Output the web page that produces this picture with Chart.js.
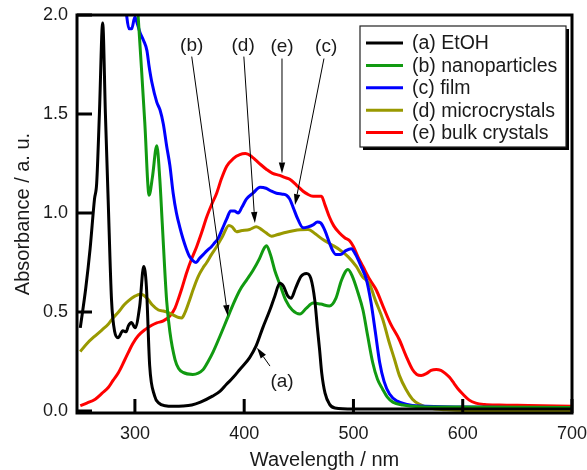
<!DOCTYPE html>
<html>
<head>
<meta charset="utf-8">
<script src="https://cdn.jsdelivr.net/npm/chart.js@4.4.1/dist/chart.umd.min.js"></script>
<style>
	html, body { margin: 0; padding: 0; background: #fff; }
</style>
</head>
<body>
<canvas id="absorbanceChart" width="587" height="470"></canvas>
<script>
// UV-vis absorbance spectra
// each point is [wavelength nm, absorbance]

const seriesLabels = ["(a) EtOH", "(b) nanoparticles", "(c) film", "(d) microcrystals", "(e) bulk crystals"];
const seriesColors = ["#000000", "#119a11", "#0000ff", "#999900", "#ff0000"];

const etoh = [[250,0.42],[255,0.62],[259,0.82],[263,1.07],[265,1.15],[267.5,1.5],[270.5,1.96],[273,1.5],[275.5,1.07],[278.6,0.56],[281.5,0.40],[284.5,0.37],[289,0.405],[292,0.40],[294,0.43],[297,0.447],[300,0.42],[304.4,0.53],[308,0.73],[310.5,0.63],[313.5,0.23],[318,0.077],[322,0.04],[327.7,0.027],[335,0.024],[344,0.025],[352,0.03],[360,0.045],[371,0.075],[378,0.1],[384,0.136],[390,0.17],[396,0.21],[405,0.27],[411,0.33],[417,0.42],[423.5,0.51],[428,0.58],[432.6,0.645],[436,0.63],[440,0.58],[443,0.57],[447,0.62],[452,0.68],[457,0.695],[461,0.67],[464.6,0.56],[467,0.42],[469,0.31],[471,0.19],[474,0.09],[478,0.035],[483,0.015],[500,0.01],[600,0.01],[700,0.01]];

const nanoparticles = [[296,2.6],[300,2.25],[303,1.99],[306,1.73],[309,1.46],[313,1.09],[316,1.18],[320,1.34],[322.8,1.17],[325,0.95],[329,0.56],[332,0.40],[336.7,0.26],[340,0.215],[344,0.195],[353,0.185],[362.5,0.21],[367,0.25],[371.7,0.30],[378,0.38],[384,0.46],[390,0.54],[396,0.61],[402,0.66],[408,0.71],[414,0.77],[418,0.82],[420.5,0.835],[424,0.79],[428,0.71],[432.6,0.64],[438,0.56],[444,0.51],[451,0.49],[457,0.52],[463,0.545],[470,0.54],[478,0.53],[484,0.57],[489,0.66],[495,0.715],[499,0.68],[504,0.6],[508.7,0.51],[513,0.38],[517.6,0.245],[522,0.16],[526.7,0.11],[531,0.07],[536,0.045],[545,0.03],[560,0.022],[600,0.02],[700,0.018]];

const film = [[288,2.3],[292.6,1.99],[294.7,1.93],[297,1.93],[300,1.99],[302,1.96],[304.7,1.91],[308,1.87],[311,1.82],[313,1.74],[315.5,1.66],[320,1.56],[323,1.52],[326,1.45],[329,1.34],[332,1.24],[335,1.1],[338,1.0],[341,0.93],[344,0.87],[347,0.82],[350,0.78],[353,0.76],[356,0.75],[359,0.77],[362.5,0.79],[366,0.81],[370,0.83],[373,0.85],[376,0.87],[380,0.92],[384,0.97],[387.6,1.01],[391,1.01],[394.5,1.0],[398,1.03],[402,1.07],[408,1.10],[414.6,1.13],[420,1.125],[425,1.11],[429.6,1.10],[435,1.095],[438.7,1.09],[441.7,1.07],[444.7,1.03],[449,0.97],[453.9,0.925],[458.5,0.93],[463,0.94],[467,0.955],[470,0.95],[474,0.91],[478,0.85],[481,0.81],[484,0.79],[488,0.79],[493,0.81],[498,0.82],[502,0.79],[507,0.73],[511.8,0.665],[516,0.55],[520,0.4],[524,0.245],[528,0.15],[533,0.086],[540,0.05],[548,0.035],[560,0.025],[603,0.02],[700,0.015]];

const microcrystals = [[250,0.30],[256,0.34],[263.7,0.38],[270,0.41],[275.8,0.44],[280,0.47],[285,0.50],[290,0.535],[294,0.556],[300,0.58],[304.7,0.59],[308,0.585],[312,0.564],[316,0.535],[321.5,0.51],[326,0.505],[330.6,0.497],[336.7,0.48],[340,0.472],[342.8,0.47],[346,0.5],[350,0.56],[353.4,0.615],[358,0.68],[362,0.72],[365.7,0.75],[370,0.79],[374.8,0.83],[380,0.88],[386,0.937],[389,0.93],[393,0.905],[397,0.91],[405,0.917],[411,0.93],[415,0.92],[420,0.9],[425,0.883],[430,0.89],[438.7,0.903],[445,0.91],[451,0.915],[458.5,0.917],[465,0.895],[472,0.866],[480,0.84],[487,0.816],[495,0.78],[502.6,0.73],[508,0.68],[514.8,0.64],[520,0.56],[527,0.46],[532,0.36],[537.6,0.26],[542,0.18],[548,0.11],[554,0.06],[560,0.035],[570,0.015],[585,0.006],[603,0.003],[700,0.003]];

const bulkCrystals = [[250,0.027],[256,0.04],[263.7,0.06],[270,0.09],[275.8,0.12],[280,0.155],[285,0.195],[290,0.25],[294,0.296],[298,0.34],[303,0.38],[309,0.41],[315.4,0.433],[320,0.445],[326,0.455],[332,0.48],[336.7,0.52],[340,0.57],[343,0.62],[347.4,0.70],[352,0.77],[356.5,0.83],[361,0.9],[365.7,0.98],[370,1.04],[374.8,1.10],[379,1.17],[384,1.236],[390,1.275],[396,1.295],[401,1.3],[406.7,1.286],[410,1.27],[415,1.245],[420.5,1.22],[426,1.2],[432.6,1.19],[437,1.18],[441.7,1.17],[448,1.14],[453.9,1.11],[458,1.095],[463,1.085],[467,1.085],[470.7,1.085],[474,1.04],[478,0.98],[482,0.935],[487,0.90],[492,0.875],[496.5,0.86],[500,0.83],[504,0.78],[508.7,0.73],[514.8,0.665],[521,0.61],[527,0.53],[534,0.44],[542,0.36],[548,0.28],[554,0.21],[558,0.185],[562,0.18],[567,0.19],[571,0.205],[575.7,0.21],[580,0.205],[584,0.19],[587.9,0.17],[592,0.14],[596,0.11],[600,0.086],[606,0.055],[612,0.04],[620,0.033],[633.5,0.03],[660,0.028],[700,0.024]];

const xTicks = [300, 400, 500, 600, 700];
const yTicks = [0.0, 0.5, 1.0, 1.5, 2.0];

// curve labels with arrows, in data units
const noteText = ["(b)", "(d)", "(e)", "(c)", "(a)"];
const notePos = [[352, 1.845], [399, 1.845], [434.6, 1.84], [475, 1.84], [434.6, 0.15]];
const arrowFrom = [[352, 1.79], [399.7, 1.79], [434.6, 1.78], [473, 1.78], [423.6, 0.227]];
const arrowTo = [[385, 0.48], [409.8, 0.95], [434.6, 1.2], [446.5, 1.04], [411.7, 0.32]];

const allSeries = [etoh, nanoparticles, film, microcrystals, bulkCrystals];
const FONT = "'Liberation Sans', Arial, sans-serif";
const TEXT = "#1a1a1a";

const toPoints = (arr) => arr.map(([x, y]) => ({ x, y }));

// frame, inward ticks, legend box and arrow notes
const decorations = {
	id: "decorations",
	afterDraw(chart) {
		const { ctx, chartArea: a, scales } = chart;
		const sx = scales.x;
		const sy = scales.y;
		ctx.save();

		ctx.strokeStyle = "#000";
		ctx.lineWidth = 3;
		ctx.strokeRect(a.left, a.top, a.right - a.left, a.bottom - a.top);

		ctx.beginPath();
		xTicks.forEach((v) => {
			const px = sx.getPixelForValue(v);
			ctx.moveTo(px, a.bottom);
			ctx.lineTo(px, a.bottom - 14);
		});
		yTicks.forEach((v) => {
			const py = sy.getPixelForValue(v);
			ctx.moveTo(a.left, py);
			ctx.lineTo(a.left + 15, py);
		});
		ctx.stroke();

		// arrows
		ctx.lineWidth = 1;
		ctx.fillStyle = "#000";
		arrowFrom.forEach((f, i) => {
			const x1 = sx.getPixelForValue(f[0]);
			const y1 = sy.getPixelForValue(f[1]);
			const x2 = sx.getPixelForValue(arrowTo[i][0]);
			const y2 = sy.getPixelForValue(arrowTo[i][1]);
			const ang = Math.atan2(y2 - y1, x2 - x1);
			const len = 11;
			const bx = x2 - len * Math.cos(ang);
			const by = y2 - len * Math.sin(ang);
			ctx.beginPath();
			ctx.moveTo(x1, y1);
			ctx.lineTo(bx, by);
			ctx.stroke();
			ctx.beginPath();
			ctx.moveTo(x2, y2);
			ctx.lineTo(bx + 3.2 * Math.sin(ang), by - 3.2 * Math.cos(ang));
			ctx.lineTo(bx - 3.2 * Math.sin(ang), by + 3.2 * Math.cos(ang));
			ctx.closePath();
			ctx.fill();
		});

		ctx.fillStyle = TEXT;
		ctx.font = `19px ${FONT}`;
		ctx.textAlign = "center";
		ctx.textBaseline = "middle";
		noteText.forEach((t, i) => {
			ctx.fillText(t, sx.getPixelForValue(notePos[i][0]), sy.getPixelForValue(notePos[i][1]));
		});

		// legend
		const lx = 360;
		const ly = 26;
		const lw = 206;
		const lh = 121;
		ctx.fillStyle = "#000";
		ctx.fillRect(lx + 3, ly + 3, lw, lh);
		ctx.fillStyle = "#fff";
		ctx.fillRect(lx, ly, lw, lh);
		ctx.strokeStyle = "#222";
		ctx.lineWidth = 1.2;
		ctx.strokeRect(lx, ly, lw, lh);

		ctx.textAlign = "left";
		ctx.font = `19.5px ${FONT}`;
		seriesLabels.forEach((label, i) => {
			const rowY = 43 + i * 22.4;
			ctx.strokeStyle = seriesColors[i];
			ctx.lineWidth = 3;
			ctx.beginPath();
			ctx.moveTo(366, rowY);
			ctx.lineTo(403, rowY);
			ctx.stroke();
			ctx.fillStyle = TEXT;
			ctx.fillText(label, 412, rowY + 1);
		});

		ctx.restore();
	},
};

new Chart(document.getElementById("absorbanceChart"), {
	type: "line",
	data: {
		datasets: allSeries.map((s, i) => ({
			label: seriesLabels[i],
			data: toPoints(s),
			borderColor: seriesColors[i],
			borderWidth: 3,
			pointRadius: 0,
			fill: false,
			cubicInterpolationMode: "monotone",
		})),
	},
	options: {
		responsive: false,
		animation: false,
		layout: { padding: { top: 15, right: 15, left: 0, bottom: 0 } },
		scales: {
			x: {
				type: "linear",
				min: 247,
				max: 700,
				afterBuildTicks: (scale) => {
					scale.ticks = xTicks.map((v) => ({ value: v }));
				},
				afterFit: (scale) => {
					scale.height = 57;
					scale.paddingLeft = 0;
					scale.paddingRight = 0;
				},
				grid: { display: false, drawTicks: false },
				border: { display: false },
				ticks: {
					color: TEXT,
					font: { family: FONT, size: 18 },
					padding: 10,
					maxRotation: 0,
				},
				title: {
					display: true,
					text: "Wavelength / nm",
					color: TEXT,
					font: { family: FONT, size: 20, lineHeight: 1 },
					padding: { top: 0, bottom: 0 },
				},
			},
			y: {
				min: -0.01,
				max: 2.0,
				afterBuildTicks: (scale) => {
					scale.ticks = yTicks.map((v) => ({ value: v }));
				},
				afterFit: (scale) => {
					scale.width = 77;
					scale.paddingTop = 0;
					scale.paddingBottom = 0;
				},
				grid: { display: false, drawTicks: false },
				border: { display: false },
				ticks: {
					color: TEXT,
					font: { family: FONT, size: 18 },
					padding: 9,
					callback: (value) => value.toFixed(1),
				},
				title: {
					display: true,
					text: "Absorbance / a. u.",
					color: TEXT,
					font: { family: FONT, size: 20, lineHeight: 1 },
					padding: { top: 13, bottom: 0 },
				},
			},
		},
		plugins: {
			legend: { display: false },
			tooltip: { enabled: false },
		},
	},
	plugins: [decorations],
});
</script>
</body>
</html>
